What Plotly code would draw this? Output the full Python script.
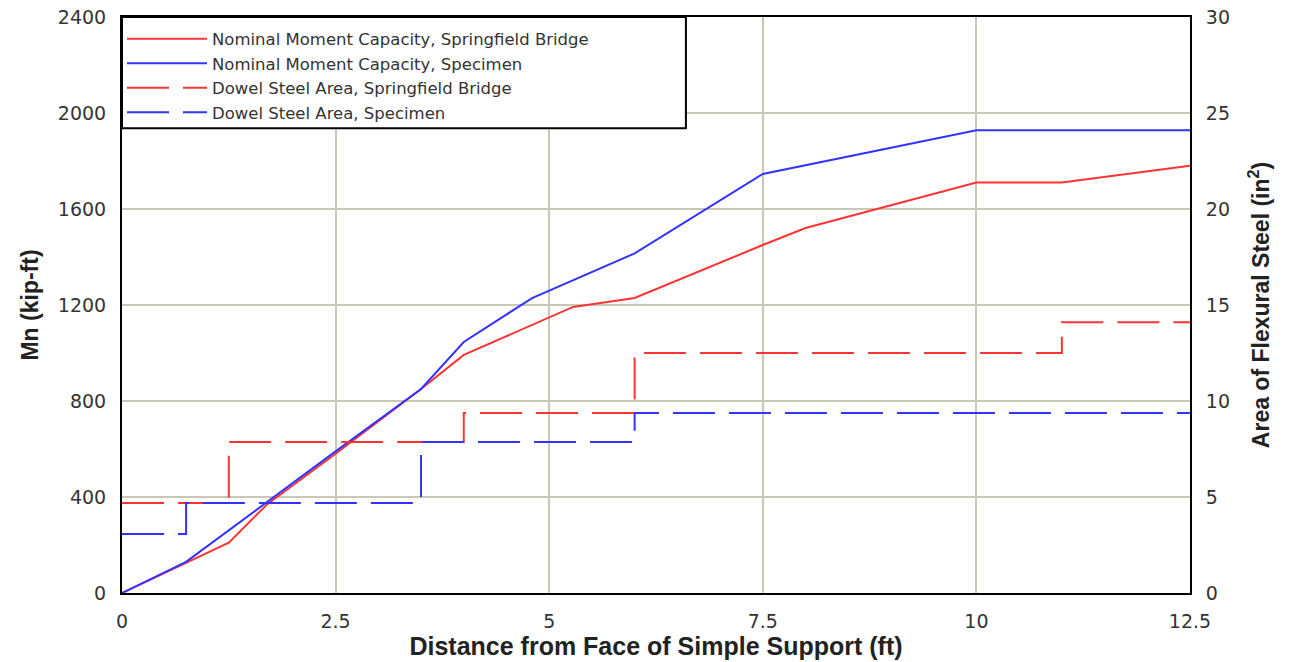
import plotly.graph_objects as go

# Nominal moment capacity (kip-ft) vs distance (ft)
mn_spring_x = [0, 0.75, 1.25, 1.7, 2.5, 3.5, 4.0, 5.28, 6.0, 7.5, 8.0, 10.0, 11.0, 12.5]
mn_spring_y = [0, 125, 210, 370, 580, 850, 992, 1192, 1229, 1450, 1521, 1710, 1710, 1780]

mn_spec_x = [0, 0.75, 2.5, 3.5, 4.0, 4.8, 6.0, 7.5, 10.0, 12.5]
mn_spec_y = [0, 130, 590, 850, 1046, 1229, 1415, 1746, 1928, 1928]

# Dowel steel area (in^2), step functions
as_spring_x = [0, 1.25, 1.25, 4.0, 4.0, 6.0, 6.0, 11.0, 11.0, 12.5]
as_spring_y = [4.69, 4.69, 7.86, 7.86, 9.375, 9.375, 12.5, 12.5, 14.1, 14.1]

as_spec_x = [0, 0.75, 0.75, 3.5, 3.5, 6.0, 6.0, 12.5]
as_spec_y = [3.07, 3.07, 4.69, 4.69, 7.86, 7.86, 9.375, 9.375]

x_ticks = [0, 2.5, 5, 7.5, 10, 12.5]
x_labels = ["0", "2.5", "5", "7.5", "10", "12.5"]
y_ticks = [0, 400, 800, 1200, 1600, 2000, 2400]
y2_ticks = [0, 5, 10, 15, 20, 25, 30]

RED = "#ff3333"
BLUE = "#3333ff"
FONT = "DejaVu Sans, Arial, sans-serif"
TFONT = "Liberation Sans, Arial, sans-serif"

fig = go.Figure()
fig.add_trace(go.Scatter(x=mn_spring_x, y=mn_spring_y, mode="lines",
                         name="Nominal Moment Capacity, Springfield Bridge",
                         line=dict(color=RED, width=2)))
fig.add_trace(go.Scatter(x=mn_spec_x, y=mn_spec_y, mode="lines",
                         name="Nominal Moment Capacity, Specimen",
                         line=dict(color=BLUE, width=2)))
fig.add_trace(go.Scatter(x=as_spring_x, y=as_spring_y, mode="lines", yaxis="y2",
                         name="Dowel Steel Area, Springfield Bridge",
                         line=dict(color=RED, width=2, dash="42px,14px")))
fig.add_trace(go.Scatter(x=as_spec_x, y=as_spec_y, mode="lines", yaxis="y2",
                         name="Dowel Steel Area, Specimen",
                         line=dict(color=BLUE, width=2, dash="42px,14px")))

grid = "#c8c8b4"
fig.update_layout(
    width=1291, height=662,
    margin=dict(l=122, r=101, t=17, b=69, autoexpand=False),
    paper_bgcolor="white", plot_bgcolor="white",
    font=dict(family=FONT, color="#333333", size=19),
    showlegend=True,
    legend=dict(x=0.0, y=0.992, xanchor="left", yanchor="top",
                bgcolor="rgba(0,0,0,0)", borderwidth=0,
                font=dict(size=16.5, color="#333333", family=FONT),
                itemwidth=80, tracegroupgap=0),
    xaxis=dict(range=[0, 12.5], tickvals=x_ticks, ticktext=x_labels,
               showgrid=True, gridcolor=grid, gridwidth=2,
               showline=True, linecolor="black", linewidth=2, mirror=True,
               ticks="", zeroline=False, ticklabelstandoff=10,
               title=dict(text="<b>Distance from Face of Simple Support (ft)</b>",
                          font=dict(size=25, color="#222222", family=TFONT), standoff=0)),
    yaxis=dict(range=[0, 2400], tickvals=y_ticks,
               showgrid=True, gridcolor=grid, gridwidth=2,
               showline=True, linecolor="black", linewidth=2, mirror=True,
               ticks="", zeroline=False, ticklabelstandoff=10,
               title=dict(text="<b>Mn (kip-ft)</b>",
                          font=dict(size=23, color="#222222", family=TFONT), standoff=13)),
    yaxis2=dict(range=[0, 30], tickvals=y2_ticks, overlaying="y", side="right",
                showgrid=False, showline=True, linecolor="black", linewidth=2,
                ticks="", zeroline=False, ticklabelstandoff=10,
                title=dict(text="<b>Area of Flexural Steel (in<sup>2</sup>)</b>",
                           font=dict(size=23, color="#222222", family=TFONT), standoff=24)),
    shapes=[dict(type="rect", xref="paper", yref="paper",
                 x0=0, x1=0.528, y0=0.807, y1=1.0,
                 line=dict(color="black", width=2), fillcolor="white",
                 layer="above")],
)

fig.write_html("out.html", config={"displayModeBar": False},
               post_script="document.body.style.margin='0px';")
